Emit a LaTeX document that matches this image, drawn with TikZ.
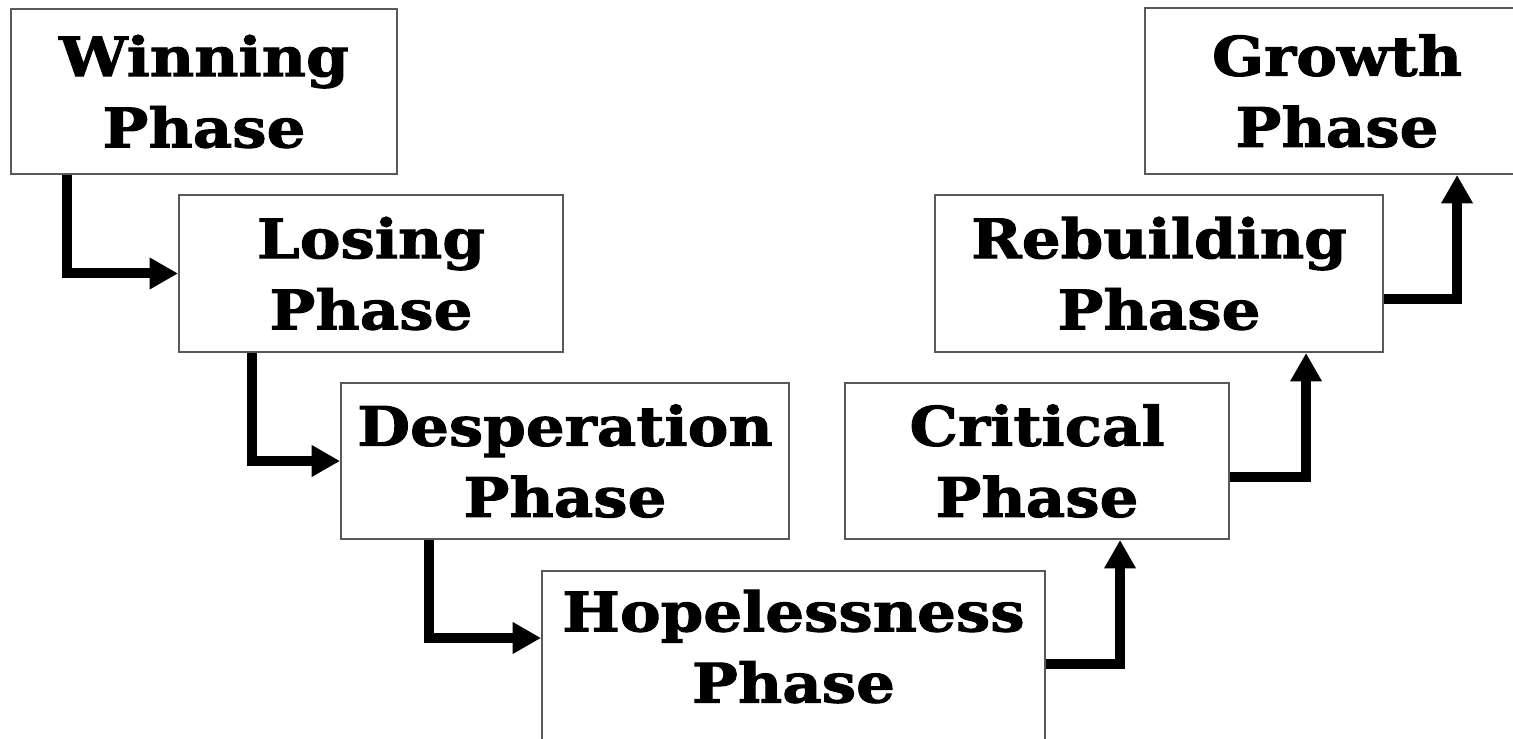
\documentclass[tikz,border=0pt]{standalone}
\usepackage{fontspec}
\usepackage{tikz}
\usetikzlibrary{arrows.meta}
\usetikzlibrary{calc}
\newfontfamily\phasefont{DejaVu Serif}[FakeStretch=1.12, FakeBold=1.8]

\tikzset{
phase/.style={draw=black!65, line width=0.04cm, align=center, inner sep=0pt, minimum height=3.12cm, font=\phasefont\bfseries\fontsize{31}{40.5}\selectfont},
arr/.style={line width=0.2cm, -{Triangle[length=0.57cm,width=0.6cm]}}
}

\begin{document}
\begin{tikzpicture}[x=0.02cm, y=-0.02cm]
\useasboundingbox (0,0) rectangle (1513,739);
\clip (0,0) rectangle (1513,739);

% way down
\node[phase, minimum width=7.72cm, minimum height=3.3cm] (win) at (204,91.5) {Winning\\Phase};
\node[phase, minimum width=7.68cm, minimum height=3.14cm] (lose) at (371,273.5) {Losing\\Phase};
\node[phase, minimum width=8.96cm] (desp) at (565,461) {Desperation\\Phase};
\node[phase, minimum width=10.06cm, minimum height=4.8cm, anchor=north, text depth=1.79cm] (hope) at (793.5,570) {Hopelessness\\Phase};

% way up
\node[phase, minimum width=7.68cm] (crit) at (1037,461) {Critical\\Phase};
\node[phase, minimum width=8.96cm, minimum height=3.14cm] (rebuild) at (1159,273.5) {Rebuilding\\Phase};
\node[phase, minimum width=7.68cm, minimum height=3.32cm] (grow) at (1337,91) {Growth\\Phase};

\draw[arr] ($(win.south west)+(57,0)$) |- (lose.west);
\draw[arr] ($(lose.south west)+(74,0)$) |- (desp.west);
\draw[arr] ($(desp.south west)+(89,0)$) |- ($(hope.north west)+(0,68)$);

\draw[arr] ($(hope.north east)+(0,94)$) -| ($(crit.south west)+(276,0)$);
\draw[arr] ($(crit.east)+(0,16)$) -| ($(rebuild.south west)+(372,0)$);
\draw[arr] ($(rebuild.east)+(0,25.5)$) -| ($(grow.south west)+(313,0)$);

\end{tikzpicture}
\end{document}
